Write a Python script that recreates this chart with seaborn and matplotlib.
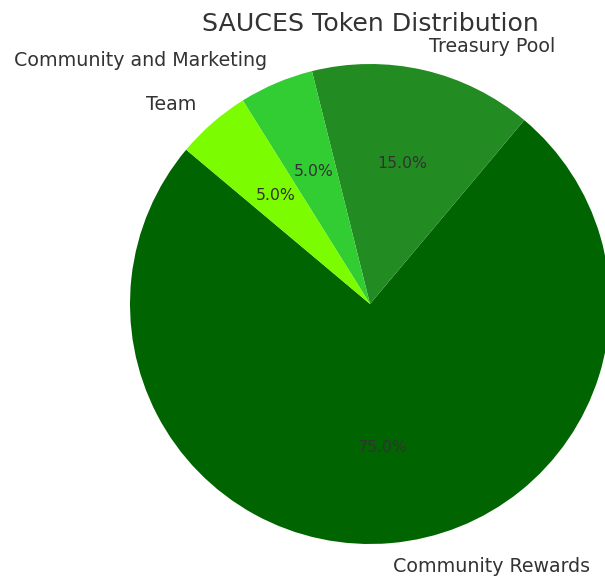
import matplotlib

matplotlib.use("Agg")
import matplotlib.pyplot as plt
import seaborn as sns


LABELS = ["Community Rewards", "Treasury Pool", "Community and Marketing", "Team"]
SHARES = [75, 15, 5, 5]
COLORS = ["#006400", "#228B22", "#32CD32", "#7CFC00"]
TEXT_COLOR = "#333333"


def main():
    sns.set_style("white")
    plt.rcParams["font.family"] = ["DejaVu Sans"]

    fig = plt.figure(figsize=(6.05, 5.78), dpi=100)
    # pie radius ~240 px, centre at (370, 304) from the top-left
    size = 2.5 * 240
    ax = fig.add_axes([
        (370 - size / 2) / 605,
        (578 - 304 - size / 2) / 578,
        size / 605,
        size / 578,
    ])

    _, texts, autotexts = ax.pie(
        SHARES,
        labels=LABELS,
        colors=COLORS,
        startangle=140,
        autopct="%1.1f%%",
        pctdistance=0.6,
        labeldistance=1.1,
        textprops={"color": TEXT_COLOR},
        wedgeprops={"linewidth": 0, "edgecolor": "none"},
    )
    for t in texts:
        t.set_fontsize(13.7)
    for t in autotexts:
        t.set_fontsize(11.3)

    ax.set_xlim(-1.25, 1.25)
    ax.set_ylim(-1.25, 1.25)
    ax.set_aspect("equal")
    ax.axis("off")

    fig.text(
        370 / 605,
        1 - 24 / 578,
        "SAUCES Token Distribution",
        ha="center",
        va="center",
        fontsize=18.2,
        color=TEXT_COLOR,
    )

    fig.savefig("out.png", dpi=100)
    plt.close(fig)


if __name__ == "__main__":
    main()
